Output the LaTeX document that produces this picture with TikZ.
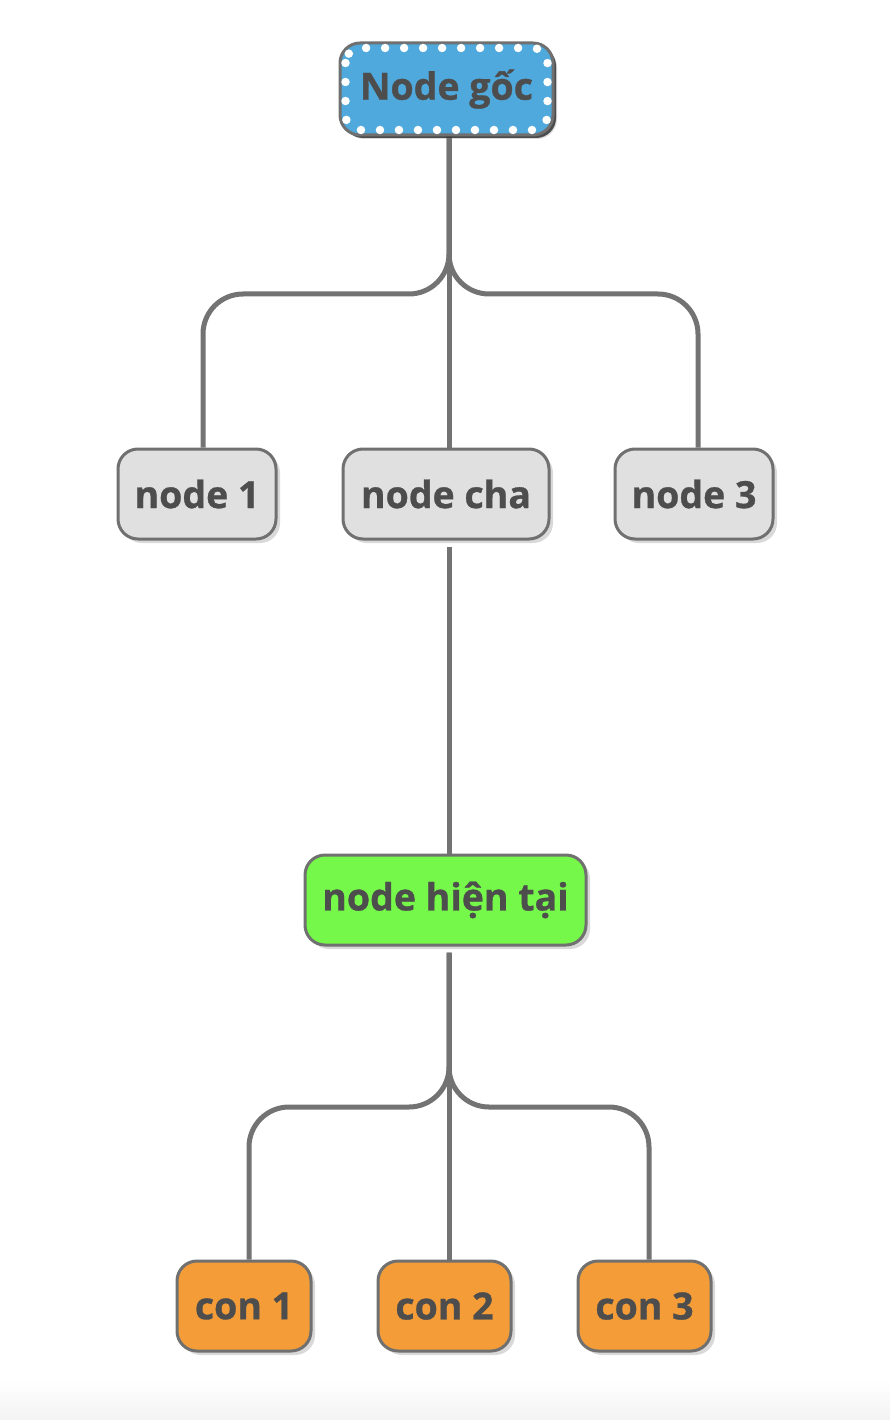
\documentclass[tikz,border=0pt]{standalone}
\usepackage{fontspec}
\setmainfont{Open Sans}[BoldFeatures={FakeBold=0.8}]
\usetikzlibrary{shadows,backgrounds}
\definecolor{txt}{HTML}{4D4D4D}
\definecolor{edge}{HTML}{707070}
\definecolor{conncol}{HTML}{737373}
\definecolor{rootfill}{HTML}{4FA9DC}
\definecolor{grayfill}{HTML}{E0E0E0}
\definecolor{greenfill}{HTML}{76F84A}
\definecolor{orangefill}{HTML}{F39C38}
\definecolor{bgbottom}{HTML}{F3F3F3}
\tikzset{
  box/.style={draw=edge, line width=3pt, rounded corners=20pt, text=txt,
    font=\fontsize{37.5}{42}\selectfont\bfseries, inner sep=0pt,
    minimum height=90pt,
    drop shadow={opacity=0.3, shadow xshift=4pt, shadow yshift=-4pt}},
  rootbox/.style={box, fill=rootfill, minimum width=213pt, minimum height=92pt,
    drop shadow={opacity=0.85, fill=black!80, shadow xshift=3pt, shadow yshift=-3pt}},
  graybox/.style={box, fill=grayfill},
  greenbox/.style={box, fill=greenfill},
  orangebox/.style={box, fill=orangefill},
  conn/.style={draw=conncol, line width=5pt, rounded corners=40pt}
}
\begin{document}
\begin{tikzpicture}[x=1pt,y=-1pt]
\useasboundingbox (0,0) rectangle (890,1420);
\shade[top color=white, bottom color=bgbottom] (0,1380) rectangle (890,1420);
% nodes
\node[rootbox] (root) at (446.5,89) {Node gốc};
\draw[white, line width=8.5pt, line cap=round, dash pattern=on 0pt off 19pt, rounded corners=15pt]
  ([xshift=7pt,yshift=-6.5pt]root.north west) rectangle ([xshift=-7pt,yshift=6.5pt]root.south east);
\node[graybox, minimum width=158pt] (n1) at (197,494) {node 1};
\node[graybox, minimum width=206pt] (ncha) at (446,494) {node cha};
\node[graybox, minimum width=158pt] (n3) at (694,494) {node 3};
\node[greenbox, minimum width=281pt] (cur) at (445.5,900) {node hiện tại};
\node[orangebox, minimum width=134pt] (c1) at (244,1306) {con 1};
\node[orangebox, minimum width=133pt] (c2) at (444.5,1306) {con 2};
\node[orangebox, minimum width=133pt] (c3) at (644.5,1306) {con 3};
% junction coordinates
\coordinate (j1) at (449,294);
\coordinate (j2) at (449,1107);
\begin{scope}[on background layer]
  \draw[conn] (root.south -| j1) -- (j1) -| ([xshift=6pt]n1.north);
  \draw[conn] (root.south -| j1) -- (j1) -| ([xshift=4pt]n3.north);
  \draw[conn] (root.south -| j1) -- (ncha.north -| j1);
  \draw[conn] ([yshift=-6pt]ncha.south -| j1) -- (cur.north -| j1);
  \draw[conn] ([yshift=-6pt]cur.south -| j2) -- (j2) -| ([xshift=5pt]c1.north);
  \draw[conn] ([yshift=-6pt]cur.south -| j2) -- (j2) -| ([xshift=4.5pt]c3.north);
  \draw[conn] ([yshift=-6pt]cur.south -| j2) -- (c2.north -| j2);
\end{scope}
\end{tikzpicture}
\end{document}
